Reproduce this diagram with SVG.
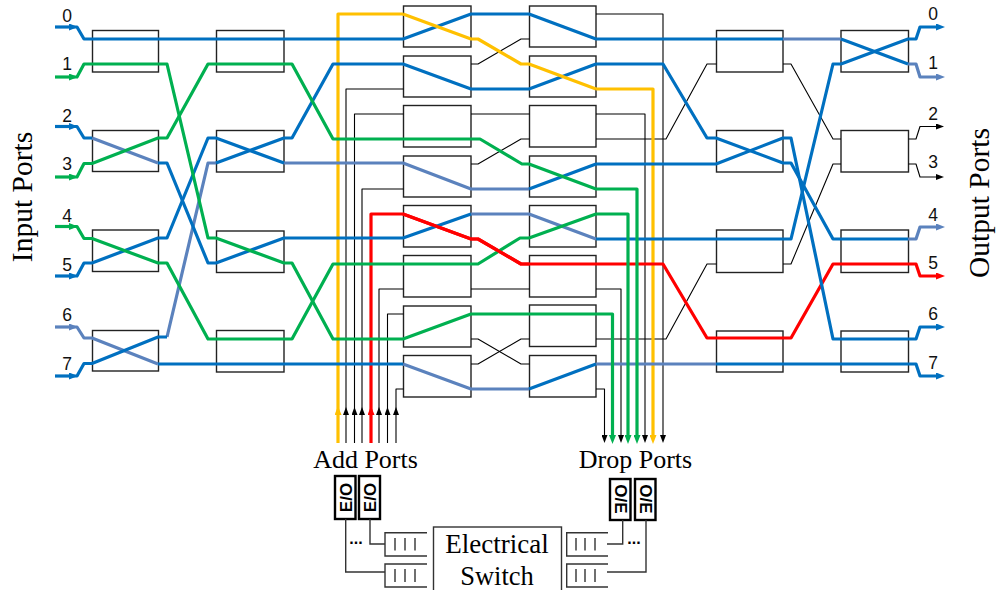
<svg xmlns="http://www.w3.org/2000/svg" width="996" height="590" viewBox="0 0 996 590">
<style>
.box{fill:none;stroke:#222;stroke-width:1.4}
.w{fill:none;stroke-linejoin:round}
.b{stroke:#0070C0;stroke-width:3.2}.g{stroke:#00B050;stroke-width:3.2}.l{stroke:#5B82BD;stroke-width:3.2}.y{stroke:#FFC000;stroke-width:3.2}.r{stroke:#FF0000;stroke-width:3.2}.k{stroke:#000;stroke-width:1.1}
.q{fill:none;stroke:#333;stroke-width:1.4}.eo{fill:#fff;stroke:#000;stroke-width:2.4}
.n{font:17.5px "Liberation Sans",Arial,sans-serif;fill:#111;text-anchor:middle}
.s{font:26px "Liberation Serif","Times New Roman",serif;fill:#000;text-anchor:middle}
.t{font:29.5px "Liberation Serif","Times New Roman",serif;fill:#000;text-anchor:middle}
.e{font:bold 17px "Liberation Sans",Arial,sans-serif;fill:#000;text-anchor:middle}
.d{font:bold 16px "Liberation Sans",Arial,sans-serif;fill:#000;text-anchor:middle}
</style>
<defs>
<marker id="ab" viewBox="0 0 9 7" refX="4" refY="3.5" markerUnits="userSpaceOnUse" markerWidth="9" markerHeight="7" orient="auto"><path d="M0,0L9,3.5L0,7z" fill="#0070C0"/></marker>
<marker id="ag" viewBox="0 0 9 7" refX="4" refY="3.5" markerUnits="userSpaceOnUse" markerWidth="9" markerHeight="7" orient="auto"><path d="M0,0L9,3.5L0,7z" fill="#00B050"/></marker>
<marker id="al" viewBox="0 0 9 7" refX="4" refY="3.5" markerUnits="userSpaceOnUse" markerWidth="9" markerHeight="7" orient="auto"><path d="M0,0L9,3.5L0,7z" fill="#5B82BD"/></marker>
<marker id="ay" viewBox="0 0 9 7" refX="4" refY="3.5" markerUnits="userSpaceOnUse" markerWidth="9" markerHeight="7" orient="auto"><path d="M0,0L9,3.5L0,7z" fill="#FFC000"/></marker>
<marker id="ar" viewBox="0 0 9 7" refX="4" refY="3.5" markerUnits="userSpaceOnUse" markerWidth="9" markerHeight="7" orient="auto"><path d="M0,0L9,3.5L0,7z" fill="#FF0000"/></marker>
<marker id="ak" viewBox="0 0 8 6" refX="3" refY="3" markerUnits="userSpaceOnUse" markerWidth="8" markerHeight="6" orient="auto"><path d="M0,0L8,3L0,6z" fill="#000"/></marker>
</defs>
<rect width="996" height="590" fill="#fff"/>
<g id="col-a">
<g id="a0"><rect class="box" x="92.5" y="30.5" width="66" height="41.5"/></g>
<g id="a1"><rect class="box" x="92.5" y="130.5" width="66" height="41"/></g>
<g id="a2"><rect class="box" x="92.5" y="230" width="66" height="41.5"/></g>
<g id="a3"><rect class="box" x="92.5" y="330.5" width="66" height="40.5"/></g>
</g>
<g id="col-b">
<g id="b0"><rect class="box" x="216.5" y="30.5" width="67.5" height="41.5"/></g>
<g id="b1"><rect class="box" x="216.5" y="130.5" width="67.5" height="41.5"/></g>
<g id="b2"><rect class="box" x="216.5" y="231" width="67.5" height="41.5"/></g>
<g id="b3"><rect class="box" x="216.5" y="330.5" width="67.5" height="41.5"/></g>
</g>
<g id="col-c">
<g id="c0"><rect class="box" x="403.5" y="6" width="67.5" height="41"/></g>
<g id="c1"><rect class="box" x="403.5" y="56" width="67.5" height="41"/></g>
<g id="c2"><rect class="box" x="403.5" y="105.5" width="67.5" height="41.5"/></g>
<g id="c3"><rect class="box" x="403.5" y="156" width="67.5" height="41"/></g>
<g id="c4"><rect class="box" x="403.5" y="205.5" width="67.5" height="41.5"/></g>
<g id="c5"><rect class="box" x="403.5" y="255.5" width="67.5" height="41.5"/></g>
<g id="c6"><rect class="box" x="403.5" y="306" width="67.5" height="41"/></g>
<g id="c7"><rect class="box" x="403.5" y="355.5" width="67.5" height="41.5"/></g>
</g>
<g id="col-d">
<g id="d0"><rect class="box" x="529.5" y="6" width="66.5" height="41"/></g>
<g id="d1"><rect class="box" x="529.5" y="56" width="66.5" height="41"/></g>
<g id="d2"><rect class="box" x="529.5" y="105.5" width="66.5" height="41.5"/></g>
<g id="d3"><rect class="box" x="529.5" y="156" width="66.5" height="41"/></g>
<g id="d4"><rect class="box" x="529.5" y="205.5" width="66.5" height="41.5"/></g>
<g id="d5"><rect class="box" x="529.5" y="255.5" width="66.5" height="41.5"/></g>
<g id="d6"><rect class="box" x="529.5" y="305" width="66.5" height="41.5"/></g>
<g id="d7"><rect class="box" x="529.5" y="355.5" width="66.5" height="41.5"/></g>
</g>
<g id="col-e">
<g id="e0"><rect class="box" x="716.5" y="30.5" width="66.5" height="41.5"/></g>
<g id="e1"><rect class="box" x="716.5" y="130.5" width="66.5" height="41.5"/></g>
<g id="e2"><rect class="box" x="716.5" y="230" width="66.5" height="42.5"/></g>
<g id="e3"><rect class="box" x="716.5" y="331" width="66.5" height="41"/></g>
</g>
<g id="col-f">
<g id="f0"><rect class="box" x="841" y="30.5" width="67.5" height="41.5"/></g>
<g id="f1"><rect class="box" x="841" y="130.5" width="67.5" height="41.5"/></g>
<g id="f2"><rect class="box" x="841" y="230" width="67.5" height="42.5"/></g>
<g id="f3"><rect class="box" x="841" y="331" width="67.5" height="41"/></g>
</g>
<g id="connectors" class="w">
<g class="k">
<path d="M346,443V412" marker-end="url(#ak)"/><path d="M346,412V89H403.5"/>
<path d="M354.5,443V412" marker-end="url(#ak)"/><path d="M354.5,412V114H403.5"/>
<path d="M362,443V412" marker-end="url(#ak)"/><path d="M362,412V189H403.5"/>
<path d="M379,443V412" marker-end="url(#ak)"/><path d="M379,412V289H403.5"/>
<path d="M387.5,443V412" marker-end="url(#ak)"/><path d="M387.5,412V314H403.5"/>
<path d="M396,443V412" marker-end="url(#ak)"/><path d="M396,412V389H403.5"/>
<path d="M596,389H604.5V438" marker-end="url(#ak)"/>
<path d="M596,289H621V438" marker-end="url(#ak)"/>
<path d="M596,114H645V438" marker-end="url(#ak)"/>
<path d="M596,14H663V438" marker-end="url(#ak)"/>
<path d="M471,64H478L521,39H529.5"/>
<path d="M471,164H478L521,139H529.5"/>
<path d="M471,114H529.5"/>
<path d="M471,289H529.5"/>
<path d="M471,339H478L521,364H529.5"/>
<path d="M471,364H478L521,339H529.5"/>
<path d="M596,139H666L707,64H716.5"/>
<path d="M596,339H666L707,264H716.5"/>
<path d="M783,64H791L833,139H841"/>
<path d="M783,264H791L833,164H841"/>
<path d="M908.5,139H916L920,126.5H939" marker-end="url(#ak)"/>
<path d="M908.5,164H916L920,177H939" marker-end="url(#ak)"/>
</g>
<g class="y">
<path d="M338,443V411" marker-end="url(#ay)"/>
<path d="M338,411V14H403"/>
<path d="M596,89H653V439" marker-end="url(#ay)"/>
</g>
<g class="r">
<path d="M371,443V411" marker-end="url(#ar)"/>
<path d="M371,411V214H403L471,239H478L521,264H663L707,338H791L833,264H916L920,276H940" marker-end="url(#ar)"/>
</g>
<g class="l">
<path d="M55,327H73" marker-end="url(#al)"/>
<path d="M73,327H77L84,338H92L158,364"/>
<path d="M92,138L158,163"/>
<path d="M167,337L208,163H216"/>
<path d="M284,163H403L471,189H529"/>
<path d="M471,214H529L596,239"/>
<path d="M403,364L471,389H529"/>
<path d="M596,364H716"/>
<path d="M783,39H841"/>
<path d="M908,64H916L920,77H940" marker-end="url(#al)"/>
<path d="M908,239H916L920,227H940" marker-end="url(#al)"/>
</g>
<g class="b">
<path d="M55,27H73" marker-end="url(#ab)"/>
<path d="M73,27H77L84,39H403L471,14H529L596,39H783"/>
<path d="M841,39L908,64"/>
<path d="M55,126.5H73" marker-end="url(#ab)"/>
<path d="M73,126.5H77L84,138H92"/>
<path d="M158,163H167L208,263H216L284,238H403L471,214"/>
<path d="M596,239H791L833,64H841L908,39H916L920,27H940" marker-end="url(#ab)"/>
<path d="M55,276H73" marker-end="url(#ab)"/>
<path d="M73,276H77L84,263H92L158,238H167L208,138H216L284,163"/>
<path d="M529,189L596,164H716L783,138H791L833,339H916L920,327H940" marker-end="url(#ab)"/>
<path d="M158,364H403"/>
<path d="M529,389L596,364"/>
<path d="M716,364H916L920,376H940" marker-end="url(#ab)"/>
<path d="M55,376H73" marker-end="url(#ab)"/>
<path d="M73,376H77L84,363.5H92L158,337H167"/>
<path d="M216,163L284,138H292L333,64H403L471,89H529L596,64H663L707,138H716L783,163H791L833,239H908"/>
</g>
<g class="g">
<path d="M55,77H73" marker-end="url(#ag)"/>
<path d="M73,77H77L84,64H167L208,238H216L284,263H292L333,339H403L471,314H612.5V439" marker-end="url(#ag)"/>
<path d="M55,177H73" marker-end="url(#ag)"/>
<path d="M73,177H77L84,163.5H92L158,138H167L208,64H292L333,139H480L522,164H529L596,189H637V439" marker-end="url(#ag)"/>
<path d="M55,226.5H73" marker-end="url(#ag)"/>
<path d="M73,226.5H77L84,238.5H92L158,263H167L208,339H292L333,264H478L520,238H529L596,214H628V439" marker-end="url(#ag)"/>
</g>
<path class="y" d="M403,14L471,39H478L521,64H529L596,89"/>
<path class="r" d="M403,214L471,239H478L521,264H529"/>
</g>
<g id="input-labels">
<text class="n" x="67" y="22">0</text><text class="n" x="67" y="70">1</text><text class="n" x="67" y="121.5">2</text><text class="n" x="67" y="170">3</text><text class="n" x="67" y="221.5">4</text><text class="n" x="67" y="270.5">5</text><text class="n" x="67" y="320.5">6</text><text class="n" x="67" y="370">7</text>
</g>
<g id="output-labels">
<text class="n" x="933" y="20">0</text><text class="n" x="933" y="69">1</text><text class="n" x="933" y="120">2</text><text class="n" x="933" y="167.5">3</text><text class="n" x="933" y="221">4</text><text class="n" x="933" y="269">5</text><text class="n" x="933" y="320">6</text><text class="n" x="933" y="369">7</text>
</g>
<text class="t" transform="translate(32,197) rotate(-90)">Input Ports</text>
<text class="t" transform="translate(989,203) rotate(-90)">Output Ports</text>
<text class="s" x="365.5" y="468">Add Ports</text>
<text class="s" x="635.5" y="468">Drop Ports</text>
<g id="eo1"><rect class="eo" x="335" y="476" width="20.5" height="43"/><text class="e" transform="translate(351.5,497.5) rotate(-90)">E/O</text></g>
<g id="eo2"><rect class="eo" x="359" y="476" width="21" height="43"/><text class="e" transform="translate(375.5,497.5) rotate(-90)">E/O</text></g>
<g id="oe1"><rect class="eo" x="610" y="479" width="20.5" height="41"/><text class="e" transform="translate(614.5,499) rotate(90)">O/E</text></g>
<g id="oe2"><rect class="eo" x="635" y="479" width="20.5" height="41"/><text class="e" transform="translate(639.5,499) rotate(90)">O/E</text></g>
<g id="switch"><rect class="q" x="433.5" y="527" width="128" height="64"/><text class="s" x="497" y="553" style="font-size:27px">Electrical</text><text class="s" x="497" y="585" style="font-size:26.5px">Switch</text></g>
<g id="queue-l1"><path class="q" d="M427,532.7H385V556H427"/><path class="q" d="M395,538V550.5M405,538V550.5M415,538V550.5"/></g>
<g id="queue-l2"><path class="q" d="M427,564H385V587H427"/><path class="q" d="M395,569V582M405,569V582M415,569V582"/></g>
<g id="queue-r1"><path class="q" d="M608,532.7H566.7V556H608"/><path class="q" d="M576,538V550.5M585,538V550.5M595,538V550.5"/></g>
<g id="queue-r2"><path class="q" d="M608,564H566.7V587H608"/><path class="q" d="M576,569V582M585,569V582M595,569V582"/></g>
<g id="links">
<path class="q" d="M345.7,519V572H385"/><path class="q" d="M370,519V544H385"/><path class="q" d="M607,544H622.7V520"/><path class="q" d="M607,572H646V520"/>
</g>
<text class="d" x="356" y="543.5">...</text>
<text class="d" x="634" y="543.5">...</text>
</svg>
